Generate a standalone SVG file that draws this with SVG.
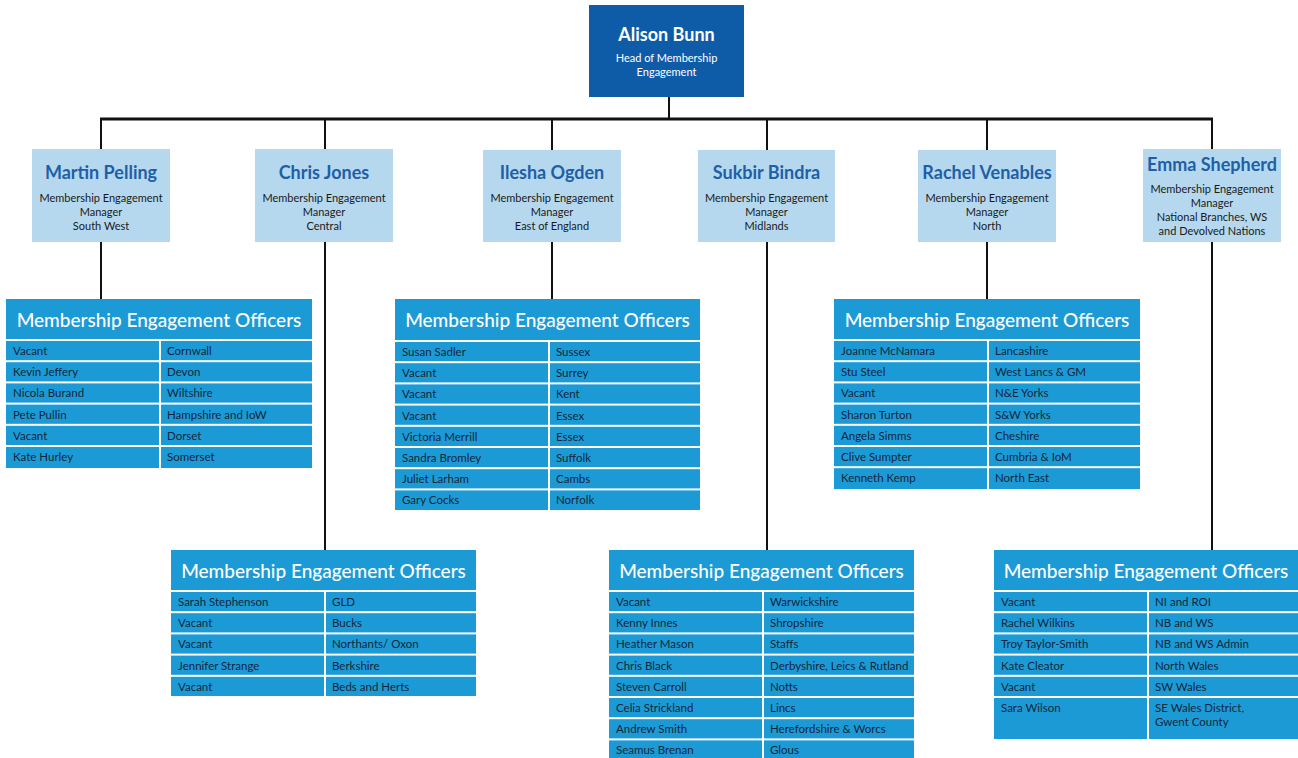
<svg xmlns="http://www.w3.org/2000/svg" width="1298" height="758" viewBox="0 0 1298 758">
<style>
.bg{fill:#ffffff}
.head{fill:#0e5ca8}
.mgr{fill:#b5d8ef}
.cell{fill:#1c9ad6}
.ln{stroke:#111111;stroke-width:2;fill:none}
.lnh{stroke:#111111;stroke-width:3;fill:none}
text{font-family:Lato,"Open Sans","Liberation Sans",sans-serif}
.hn{font-size:18px;font-weight:700;fill:#ffffff;text-anchor:middle}
.hs{font-size:11px;fill:#ffffff;text-anchor:middle}
.mn{font-size:18px;font-weight:700;fill:#1f5fa6;text-anchor:middle}
.ms{font-size:11px;fill:#1a1a1a;text-anchor:middle}
.th{font-size:19px;font-weight:500;fill:#ffffff;text-anchor:middle}
.td{font-size:11.5px;fill:#16263a}
</style>
<rect class="bg" x="0" y="0" width="1298" height="758"/>

<g id="connectors">
<line class="ln" x1="669" y1="97" x2="669" y2="119"/>
<line class="lnh" x1="100" y1="119" x2="1213" y2="119"/>
<line class="ln" x1="101" y1="119" x2="101" y2="149"/>
<line class="ln" x1="325" y1="119" x2="325" y2="149"/>
<line class="ln" x1="552" y1="119" x2="552" y2="150"/>
<line class="ln" x1="767" y1="119" x2="767" y2="150"/>
<line class="ln" x1="987" y1="119" x2="987" y2="150"/>
<line class="ln" x1="1212" y1="119" x2="1212" y2="149"/>
<line class="ln" x1="101" y1="242" x2="101" y2="299"/>
<line class="ln" x1="325" y1="242" x2="325" y2="550"/>
<line class="ln" x1="552" y1="242" x2="552" y2="299"/>
<line class="ln" x1="767" y1="242" x2="767" y2="550"/>
<line class="ln" x1="987" y1="242" x2="987" y2="299"/>
<line class="ln" x1="1212" y1="242" x2="1212" y2="550"/>
</g>

<g id="alison-bunn">
<rect class="head" x="589" y="5" width="155" height="92"/>
<text class="hn" x="666.5" y="41">Alison Bunn</text>
<text class="hs" x="666.5" y="62">Head of Membership</text>
<text class="hs" x="666.5" y="76">Engagement</text>
</g>

<g id="martin-pelling">
<rect class="mgr" x="32" y="149" width="138" height="93"/>
<text class="mn" x="101" y="179">Martin Pelling</text>
<text class="ms" x="101" y="202">Membership Engagement</text>
<text class="ms" x="101" y="216">Manager</text>
<text class="ms" x="101" y="230">South West</text>
</g>

<g id="chris-jones">
<rect class="mgr" x="255" y="149" width="138" height="93"/>
<text class="mn" x="324" y="179">Chris Jones</text>
<text class="ms" x="324" y="202">Membership Engagement</text>
<text class="ms" x="324" y="216">Manager</text>
<text class="ms" x="324" y="230">Central</text>
</g>

<g id="ilesha-ogden">
<rect class="mgr" x="483" y="150" width="138" height="92"/>
<text class="mn" x="552" y="179">Ilesha Ogden</text>
<text class="ms" x="552" y="202">Membership Engagement</text>
<text class="ms" x="552" y="216">Manager</text>
<text class="ms" x="552" y="230">East of England</text>
</g>

<g id="sukbir-bindra">
<rect class="mgr" x="698" y="150" width="137" height="92"/>
<text class="mn" x="766.5" y="179">Sukbir Bindra</text>
<text class="ms" x="766.5" y="202">Membership Engagement</text>
<text class="ms" x="766.5" y="216">Manager</text>
<text class="ms" x="766.5" y="230">Midlands</text>
</g>

<g id="rachel-venables">
<rect class="mgr" x="918" y="150" width="138" height="92"/>
<text class="mn" x="987" y="179">Rachel Venables</text>
<text class="ms" x="987" y="202">Membership Engagement</text>
<text class="ms" x="987" y="216">Manager</text>
<text class="ms" x="987" y="230">North</text>
</g>

<g id="emma-shepherd">
<rect class="mgr" x="1143" y="149" width="138" height="93"/>
<text class="mn" x="1212" y="171">Emma Shepherd</text>
<text class="ms" x="1212" y="193">Membership Engagement</text>
<text class="ms" x="1212" y="207">Manager</text>
<text class="ms" x="1212" y="221">National Branches, WS</text>
<text class="ms" x="1212" y="235">and Devolved Nations</text>
</g>

<!-- Table 1: South West -->
<g id="officers-south-west">
<rect class="cell" x="6" y="299" width="306" height="40"/>
<text class="th" x="159" y="327">Membership Engagement Officers</text>
<rect class="cell" x="6" y="341" width="153" height="19.2"/><rect class="cell" x="161" y="341" width="151" height="19.2"/>
<rect class="cell" x="6" y="362.2" width="153" height="19.2"/><rect class="cell" x="161" y="362.2" width="151" height="19.2"/>
<rect class="cell" x="6" y="383.4" width="153" height="19.2"/><rect class="cell" x="161" y="383.4" width="151" height="19.2"/>
<rect class="cell" x="6" y="404.6" width="153" height="19.2"/><rect class="cell" x="161" y="404.6" width="151" height="19.2"/>
<rect class="cell" x="6" y="425.8" width="153" height="19.2"/><rect class="cell" x="161" y="425.8" width="151" height="19.2"/>
<rect class="cell" x="6" y="447" width="153" height="21"/><rect class="cell" x="161" y="447" width="151" height="21"/>
<text class="td" x="13" y="355">Vacant</text><text class="td" x="167" y="355">Cornwall</text>
<text class="td" x="13" y="376.2">Kevin Jeffery</text><text class="td" x="167" y="376.2">Devon</text>
<text class="td" x="13" y="397.4">Nicola Burand</text><text class="td" x="167" y="397.4">Wiltshire</text>
<text class="td" x="13" y="418.6">Pete Pullin</text><text class="td" x="167" y="418.6">Hampshire and IoW</text>
<text class="td" x="13" y="439.8">Vacant</text><text class="td" x="167" y="439.8">Dorset</text>
<text class="td" x="13" y="461">Kate Hurley</text><text class="td" x="167" y="461">Somerset</text>
</g>

<!-- Table 2: Central -->
<g id="officers-central">
<rect class="cell" x="171" y="550" width="305" height="40"/>
<text class="th" x="323.5" y="578">Membership Engagement Officers</text>
<rect class="cell" x="171" y="592" width="153" height="19.2"/><rect class="cell" x="326" y="592" width="150" height="19.2"/>
<rect class="cell" x="171" y="613.2" width="153" height="19.2"/><rect class="cell" x="326" y="613.2" width="150" height="19.2"/>
<rect class="cell" x="171" y="634.4" width="153" height="19.2"/><rect class="cell" x="326" y="634.4" width="150" height="19.2"/>
<rect class="cell" x="171" y="655.6" width="153" height="19.2"/><rect class="cell" x="326" y="655.6" width="150" height="19.2"/>
<rect class="cell" x="171" y="676.8" width="153" height="19.2"/><rect class="cell" x="326" y="676.8" width="150" height="19.2"/>
<text class="td" x="178" y="606">Sarah Stephenson</text><text class="td" x="332" y="606">GLD</text>
<text class="td" x="178" y="627.2">Vacant</text><text class="td" x="332" y="627.2">Bucks</text>
<text class="td" x="178" y="648.4">Vacant</text><text class="td" x="332" y="648.4">Northants/ Oxon</text>
<text class="td" x="178" y="669.6">Jennifer Strange</text><text class="td" x="332" y="669.6">Berkshire</text>
<text class="td" x="178" y="690.8">Vacant</text><text class="td" x="332" y="690.8">Beds and Herts</text>
</g>

<!-- Table 3: East of England -->
<g id="officers-east-of-england">
<rect class="cell" x="395" y="299" width="305" height="41"/>
<text class="th" x="547.5" y="327">Membership Engagement Officers</text>
<rect class="cell" x="395" y="342" width="153" height="19.2"/><rect class="cell" x="550" y="342" width="150" height="19.2"/>
<rect class="cell" x="395" y="363.2" width="153" height="19.2"/><rect class="cell" x="550" y="363.2" width="150" height="19.2"/>
<rect class="cell" x="395" y="384.4" width="153" height="19.2"/><rect class="cell" x="550" y="384.4" width="150" height="19.2"/>
<rect class="cell" x="395" y="405.6" width="153" height="19.2"/><rect class="cell" x="550" y="405.6" width="150" height="19.2"/>
<rect class="cell" x="395" y="426.8" width="153" height="19.2"/><rect class="cell" x="550" y="426.8" width="150" height="19.2"/>
<rect class="cell" x="395" y="448" width="153" height="19.2"/><rect class="cell" x="550" y="448" width="150" height="19.2"/>
<rect class="cell" x="395" y="469.2" width="153" height="19.2"/><rect class="cell" x="550" y="469.2" width="150" height="19.2"/>
<rect class="cell" x="395" y="490.4" width="153" height="19.6"/><rect class="cell" x="550" y="490.4" width="150" height="19.6"/>
<text class="td" x="402" y="356">Susan Sadler</text><text class="td" x="556" y="356">Sussex</text>
<text class="td" x="402" y="377.2">Vacant</text><text class="td" x="556" y="377.2">Surrey</text>
<text class="td" x="402" y="398.4">Vacant</text><text class="td" x="556" y="398.4">Kent</text>
<text class="td" x="402" y="419.6">Vacant</text><text class="td" x="556" y="419.6">Essex</text>
<text class="td" x="402" y="440.8">Victoria Merrill</text><text class="td" x="556" y="440.8">Essex</text>
<text class="td" x="402" y="462">Sandra Bromley</text><text class="td" x="556" y="462">Suffolk</text>
<text class="td" x="402" y="483.2">Juliet Larham</text><text class="td" x="556" y="483.2">Cambs</text>
<text class="td" x="402" y="504.4">Gary Cocks</text><text class="td" x="556" y="504.4">Norfolk</text>
</g>

<!-- Table 4: Midlands -->
<g id="officers-midlands">
<rect class="cell" x="609" y="550" width="305" height="40"/>
<text class="th" x="761.5" y="578">Membership Engagement Officers</text>
<rect class="cell" x="609" y="592" width="153" height="19.2"/><rect class="cell" x="764" y="592" width="150" height="19.2"/>
<rect class="cell" x="609" y="613.2" width="153" height="19.2"/><rect class="cell" x="764" y="613.2" width="150" height="19.2"/>
<rect class="cell" x="609" y="634.4" width="153" height="19.2"/><rect class="cell" x="764" y="634.4" width="150" height="19.2"/>
<rect class="cell" x="609" y="655.6" width="153" height="19.2"/><rect class="cell" x="764" y="655.6" width="150" height="19.2"/>
<rect class="cell" x="609" y="676.8" width="153" height="19.2"/><rect class="cell" x="764" y="676.8" width="150" height="19.2"/>
<rect class="cell" x="609" y="698" width="153" height="19.2"/><rect class="cell" x="764" y="698" width="150" height="19.2"/>
<rect class="cell" x="609" y="719.2" width="153" height="19.2"/><rect class="cell" x="764" y="719.2" width="150" height="19.2"/>
<rect class="cell" x="609" y="740.4" width="153" height="19.2"/><rect class="cell" x="764" y="740.4" width="150" height="19.2"/>
<text class="td" x="616" y="606">Vacant</text><text class="td" x="770" y="606">Warwickshire</text>
<text class="td" x="616" y="627.2">Kenny Innes</text><text class="td" x="770" y="627.2">Shropshire</text>
<text class="td" x="616" y="648.4">Heather Mason</text><text class="td" x="770" y="648.4">Staffs</text>
<text class="td" x="616" y="669.6">Chris Black</text><text class="td" x="770" y="669.6">Derbyshire, Leics &amp; Rutland</text>
<text class="td" x="616" y="690.8">Steven Carroll</text><text class="td" x="770" y="690.8">Notts</text>
<text class="td" x="616" y="712">Celia Strickland</text><text class="td" x="770" y="712">Lincs</text>
<text class="td" x="616" y="733.2">Andrew Smith</text><text class="td" x="770" y="733.2">Herefordshire &amp; Worcs</text>
<text class="td" x="616" y="754.4">Seamus Brenan</text><text class="td" x="770" y="754.4">Glous</text>
</g>

<!-- Table 5: North -->
<g id="officers-north">
<rect class="cell" x="834" y="299" width="306" height="40"/>
<text class="th" x="987" y="327">Membership Engagement Officers</text>
<rect class="cell" x="834" y="341" width="153" height="19.2"/><rect class="cell" x="989" y="341" width="151" height="19.2"/>
<rect class="cell" x="834" y="362.2" width="153" height="19.2"/><rect class="cell" x="989" y="362.2" width="151" height="19.2"/>
<rect class="cell" x="834" y="383.4" width="153" height="19.2"/><rect class="cell" x="989" y="383.4" width="151" height="19.2"/>
<rect class="cell" x="834" y="404.6" width="153" height="19.2"/><rect class="cell" x="989" y="404.6" width="151" height="19.2"/>
<rect class="cell" x="834" y="425.8" width="153" height="19.2"/><rect class="cell" x="989" y="425.8" width="151" height="19.2"/>
<rect class="cell" x="834" y="447" width="153" height="19.2"/><rect class="cell" x="989" y="447" width="151" height="19.2"/>
<rect class="cell" x="834" y="468.2" width="153" height="20.8"/><rect class="cell" x="989" y="468.2" width="151" height="20.8"/>
<text class="td" x="841" y="355">Joanne McNamara</text><text class="td" x="995" y="355">Lancashire</text>
<text class="td" x="841" y="376.2">Stu Steel</text><text class="td" x="995" y="376.2">West Lancs &amp; GM</text>
<text class="td" x="841" y="397.4">Vacant</text><text class="td" x="995" y="397.4">N&amp;E Yorks</text>
<text class="td" x="841" y="418.6">Sharon Turton</text><text class="td" x="995" y="418.6">S&amp;W Yorks</text>
<text class="td" x="841" y="439.8">Angela Simms</text><text class="td" x="995" y="439.8">Cheshire</text>
<text class="td" x="841" y="461">Clive Sumpter</text><text class="td" x="995" y="461">Cumbria &amp; IoM</text>
<text class="td" x="841" y="482.2">Kenneth Kemp</text><text class="td" x="995" y="482.2">North East</text>
</g>

<!-- Table 6: National Branches -->
<g id="officers-national">
<rect class="cell" x="994" y="550" width="304" height="40"/>
<text class="th" x="1146" y="578">Membership Engagement Officers</text>
<rect class="cell" x="994" y="592" width="153" height="19.2"/><rect class="cell" x="1149" y="592" width="149" height="19.2"/>
<rect class="cell" x="994" y="613.2" width="153" height="19.2"/><rect class="cell" x="1149" y="613.2" width="149" height="19.2"/>
<rect class="cell" x="994" y="634.4" width="153" height="19.2"/><rect class="cell" x="1149" y="634.4" width="149" height="19.2"/>
<rect class="cell" x="994" y="655.6" width="153" height="19.2"/><rect class="cell" x="1149" y="655.6" width="149" height="19.2"/>
<rect class="cell" x="994" y="676.8" width="153" height="19.2"/><rect class="cell" x="1149" y="676.8" width="149" height="19.2"/>
<rect class="cell" x="994" y="698" width="153" height="41"/><rect class="cell" x="1149" y="698" width="149" height="41"/>
<text class="td" x="1001" y="606">Vacant</text><text class="td" x="1155" y="606">NI and ROI</text>
<text class="td" x="1001" y="627.2">Rachel Wilkins</text><text class="td" x="1155" y="627.2">NB and WS</text>
<text class="td" x="1001" y="648.4">Troy Taylor-Smith</text><text class="td" x="1155" y="648.4">NB and WS Admin</text>
<text class="td" x="1001" y="669.6">Kate Cleator</text><text class="td" x="1155" y="669.6">North Wales</text>
<text class="td" x="1001" y="690.8">Vacant</text><text class="td" x="1155" y="690.8">SW Wales</text>
<text class="td" x="1001" y="712">Sara Wilson</text><text class="td" x="1155" y="712">SE Wales District,</text>
<text class="td" x="1155" y="726">Gwent County</text>
</g>
</svg>
